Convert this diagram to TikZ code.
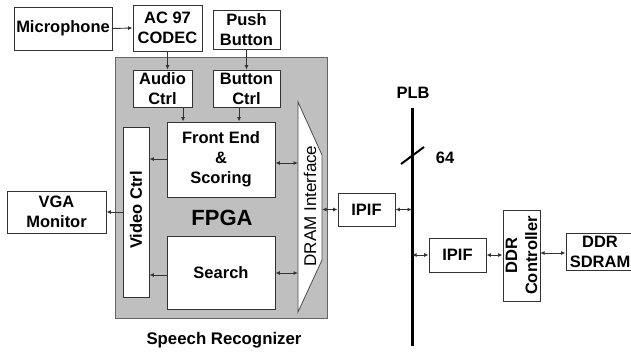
\documentclass[tikz,border=0pt]{standalone}
\usepackage{fontspec}
\setmainfont{Liberation Sans}
\usetikzlibrary{arrows.meta}
\tikzset{
  blk/.style={draw=black!80, line width=0.9pt, fill=white, inner sep=0pt,
    align=center, font=\fontsize{16.5}{20}\selectfont\bfseries},
  arr/.style={draw=black!80, line width=0.9pt, -{Latex[length=4.5pt,width=4pt]}},
  biarr/.style={draw=black!80, line width=0.9pt, {Latex[length=4.5pt,width=4pt]}-{Latex[length=4.5pt,width=4pt]}},
  lbl/.style={font=\fontsize{16.5}{20}\selectfont\bfseries, inner sep=0pt},
}
\begin{document}
\begin{tikzpicture}[x=1pt,y=-1pt]
\useasboundingbox (0,0) rectangle (631,354);

% FPGA region
\fill[black!25] (115,57) rectangle (327,318);
\draw[black!60, line width=0.8pt] (115,57) rectangle (327,318);

% DRAM interface (wedge shape)
\draw[black!70, line width=0.8pt, fill=white]
  (298,102) -- (322,155) -- (322,260) -- (298,312) -- cycle;
\node[rotate=90, font=\fontsize{17}{19}\selectfont, inner sep=0pt] (dramlbl) at (310,206) {DRAM Interface};

% Blocks
\node[blk, minimum width=98, minimum height=43] (mic) at (63,28.5) {Microphone};
\node[blk, minimum width=69, minimum height=46] (codec) at (167.5,28) {AC 97\\CODEC};
\node[blk, minimum width=67, minimum height=39] (push) at (246.5,29.5) {Push\\Button};
\node[blk, minimum width=59, minimum height=37] (audio) at (162.5,88.5) {Audio\\Ctrl};
\node[blk, minimum width=67, minimum height=37] (btn) at (246.5,88.5) {Button\\Ctrl};
\node[blk, minimum width=108, minimum height=75] (front) at (221,159.5) {Front End\\\&\\Scoring};
\node[blk, minimum width=108, minimum height=73] (search) at (221,272.5) {Search};
\node[blk, minimum width=26, minimum height=170] (video) at (136,212) {};
\node[lbl, rotate=90] (videolbl) at (136,210) {Video Ctrl};
\node[blk, minimum width=99, minimum height=42] (vga) at (56.5,212) {VGA\\Monitor};
\node[blk, minimum width=57, minimum height=33] (ipif1) at (366.5,209.5) {IPIF};
\node[blk, minimum width=57, minimum height=34] (ipif2) at (457.5,255) {IPIF};
\node[blk, minimum width=37, minimum height=91] (ddrc) at (521.5,255.5) {};
\node[lbl, rotate=90, align=center] (ddrclbl) at (521.5,255.5) {DDR\\Controller};
\node[blk, minimum width=68, minimum height=37] (sdram) at (600,251.5) {DDR\\SDRAM};

% Labels
\node[font=\fontsize{22}{24}\selectfont\bfseries, inner sep=0pt] (fpga) at (222,218) {FPGA};
\node[lbl, font=\fontsize{16.8}{20}\selectfont\bfseries] (sr) at (224,340) {Speech Recognizer};
\node[lbl] (plblbl) at (413,93) {PLB};
\node[lbl] (w64) at (445,158) {64};

% PLB bus
\coordinate (plbtop) at (412,108);
\coordinate (plbbot) at (412,346);
\draw[line width=3pt] (plbtop) -- (plbbot);
\coordinate (sl1) at (401,164);
\coordinate (sl2) at (424,147);
\draw[line width=2pt] (sl1) -- (sl2);

% Connection points
\coordinate (a1) at (183,107);
\coordinate (b1) at (239,107);
\coordinate (f1) at (167,159);
\coordinate (s1) at (167,275);
\coordinate (dl1) at (298,163);
\coordinate (dl2) at (298,273);
\coordinate (dr) at (322,209.5);
\coordinate (p1) at (412,209.5);
\coordinate (p2) at (412,255);
\coordinate (m1) at (540,253);

% Connectors
\draw[arr] (mic.east) -- (codec.west);
\draw[arr] (codec.south) -- (codec.south |- audio.north);
\draw[arr] (push.south) -- (btn.north);
\draw[arr] (a1) -- (a1 |- front.north);
\draw[arr] (b1) -- (b1 |- front.north);
\draw[arr] (f1) -- (f1 -| video.east);
\draw[arr] (s1) -- (s1 -| video.east);
\draw[arr] (video.west) -- (vga.east);
\draw[biarr] (dl1 -| front.east) -- (dl1);
\draw[biarr] (dl2 -| search.east) -- (dl2);
\draw[biarr] (dr) -- (ipif1.west);
\draw[biarr] (ipif1.east) -- (p1);
\draw[biarr] (p2) -- (ipif2.west);
\draw[biarr] (ipif2.east) -- (ipif2.east -| ddrc.west);
\draw[biarr] (m1) -- (m1 -| sdram.west);
\end{tikzpicture}
\end{document}
